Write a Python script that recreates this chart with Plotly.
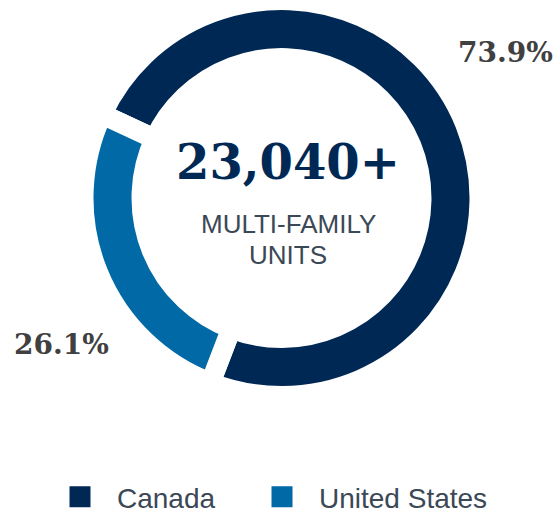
import plotly.graph_objects as go

# ---- data ----
regions = ["Canada", "United States"]
shares = [73.9, 26.1]          # percent of multi-family units
total_units = 23040
center_caption = ["MULTI-FAMILY", "UNITS"]
colors = ["#002855", "#0069a6"]

W, H = 558, 514

fig = go.Figure()

fig.add_trace(go.Pie(
    labels=regions,
    values=shares,
    sort=False,
    direction="clockwise",
    rotation=295,
    hole=0.707,
    marker=dict(colors=colors, line=dict(color="white", width=20)),
    textinfo="none",
    hoverinfo="label+percent",
    showlegend=False,
    domain=dict(x=[0.009, 1.0], y=[0.2296, 1.0]),
))

# legend entries (square swatches), one legend box per entry
legend_ids = ["legend", "legend2"]
for name, col, lg in zip(regions, colors, legend_ids):
    fig.add_trace(go.Scatter(
        x=[None], y=[None], mode="markers", name=name,
        marker=dict(symbol="square", size=16, color=col,
                    line=dict(color=col, width=5)),
        showlegend=True, hoverinfo="skip", legend=lg,
    ))

tot = sum(shares)
pct_text = [f"{v / tot * 100:.1f}%" for v in shares]

label_font = dict(family="DejaVu Serif", size=28, color="#404040")
annotations = [
    dict(text=f"<b>{total_units:,}+</b>", x=287.5 / W, y=1 - 162 / H,
         xref="paper", yref="paper", showarrow=False,
         font=dict(family="DejaVu Serif", size=48, color="#002855"),
         xanchor="center", yanchor="middle"),
    dict(text=f"<b>{pct_text[0]}</b>", x=505 / W, y=1 - 53 / H,
         xref="paper", yref="paper", showarrow=False, font=label_font,
         xanchor="center", yanchor="middle"),
    dict(text=f"<b>{pct_text[1]}</b>", x=61 / W, y=1 - 344 / H,
         xref="paper", yref="paper", showarrow=False, font=label_font,
         xanchor="center", yanchor="middle"),
]
for line, yc in zip(center_caption, [223.5, 254.5]):
    annotations.append(dict(
        text=line, x=288 / W, y=1 - yc / H, xref="paper", yref="paper",
        showarrow=False, xanchor="center", yanchor="middle",
        font=dict(family="Liberation Sans, Arial", size=26, color="#3b4856")))

legend_style = dict(
    orientation="h", yanchor="middle", y=1 - 497 / H, xanchor="left",
    itemwidth=64,
    font=dict(family="Liberation Sans, Arial", size=28, color="#3b4856"),
    itemclick=False, itemdoubleclick=False, bgcolor="rgba(0,0,0,0)",
)

fig.update_layout(
    width=W, height=H,
    margin=dict(l=0, r=0, t=0, b=0, autoexpand=False),
    paper_bgcolor="white", plot_bgcolor="white",
    xaxis=dict(visible=False), yaxis=dict(visible=False),
    annotations=annotations,
    legend=dict(legend_style, x=43 / W),
    legend2=dict(legend_style, x=245 / W),
)

fig.write_html("out.html", config={"displayModeBar": False},
               post_script="document.body.style.margin='0';")
